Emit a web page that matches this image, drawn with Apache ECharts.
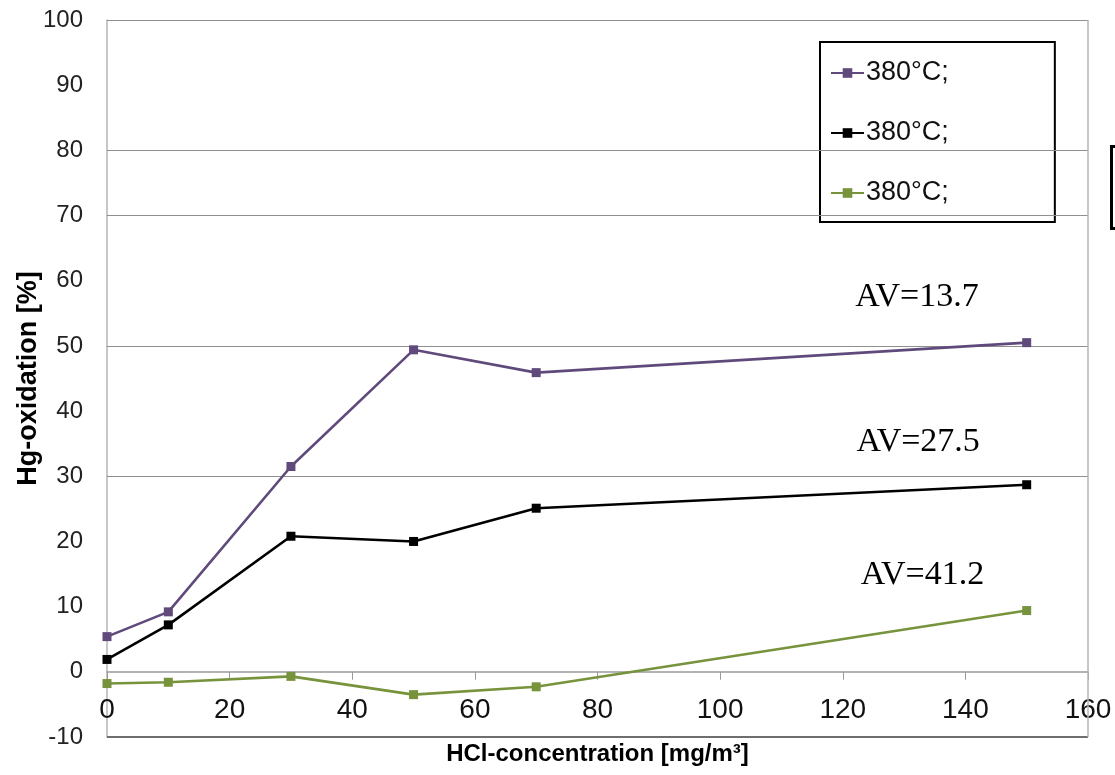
<!DOCTYPE html>
<html>
<head>
<meta charset="utf-8">
<script src="https://cdn.jsdelivr.net/npm/echarts@6/dist/echarts.min.js"></script>
<style>
  html, body { margin: 0; padding: 0; background: #fff; }
  #chart { width: 1115px; height: 775px; }
</style>
</head>
<body>
<div id="chart"></div>
<script>
// ---- data ----
const hclConc = [0, 10, 30, 50, 70, 150];
const seriesNames = ['380°C;', '380°C;\u200b', '380°C;\u200b\u200b'];
const purpleVals = [5.4, 9.2, 31.5, 49.4, 45.9, 50.5];
const blackVals  = [1.9, 7.2, 20.8, 20.0, 25.1, 28.7];
const greenVals  = [-1.8, -1.6, -0.7, -3.5, -2.3, 9.4];
const annotText = ['AV=13.7', 'AV=27.5', 'AV=41.2'];
const annotX = [132.1, 132.3, 133.0];
const annotY = [57.5, 35.3, 14.9];
const gridValues = [100, 80, 70, 50, 30];
const xTitle = 'HCl-concentration [mg/m³]';
const yTitle = 'Hg-oxidation [%]';

const colors = ['#604a7b', '#000000', '#77933c'];
const valueSets = [purpleVals, blackVals, greenVals];

const chart = echarts.init(document.getElementById('chart'), null, { renderer: 'canvas' });

const lineSeries = seriesNames.map((name, i) => ({
  name: name,
  type: 'line',
  data: hclConc.map((x, j) => [x, valueSets[i][j]]),
  symbol: 'rect',
  symbolSize: 9,
  z: 5,
  lineStyle: { color: colors[i], width: 2.6 },
  itemStyle: { color: colors[i] },
  emphasis: { disabled: true },
  animation: false
}));

const option = {
  animation: false,
  backgroundColor: '#ffffff',
  grid: { left: 107, right: 27, top: 20, bottom: 38, containLabel: false, outerBoundsMode: 'none' },
  xAxis: {
    type: 'value',
    min: 0, max: 160, interval: 20,
    name: xTitle,
    nameLocation: 'middle',
    nameGap: 5,
    nameMoveOverlap: false,
    nameTextStyle: { fontFamily: 'Liberation Sans', fontWeight: 'bold', fontSize: 24, color: '#000' },
    axisLine: { onZero: true, lineStyle: { color: '#9a9a9a', width: 1.5 } },
    axisTick: { show: true, length: 8, lineStyle: { color: '#9a9a9a', width: 1 } },
    axisLabel: { fontFamily: 'Liberation Sans', fontSize: 28, color: '#111', margin: -41 },
    splitLine: { show: false }
  },
  yAxis: {
    type: 'value',
    min: -10, max: 100, interval: 10,
    name: yTitle,
    nameLocation: 'middle',
    nameGap: 65,
    nameMoveOverlap: false,
    nameTextStyle: { fontFamily: 'Liberation Sans', fontWeight: 'bold', fontSize: 27, color: '#000' },
    axisLine: { show: true, lineStyle: { color: '#b5b5b5', width: 1.5 } },
    axisTick: { show: false },
    axisLabel: { fontFamily: 'Liberation Sans', fontSize: 24, color: '#222', margin: 24 },
    splitLine: { show: false }
  },
  legend: {
    show: true,
    data: seriesNames,
    orient: 'vertical',
    left: 820,
    top: 42,
    padding: [17, 106, 15, 10],
    itemGap: 32,
    itemWidth: 33,
    itemHeight: 12,
    backgroundColor: '#ffffff',
    borderColor: '#000000',
    borderWidth: 2,
    formatter: n => n.replace(/\u200b/g, ''),
    textStyle: { fontFamily: 'Liberation Sans', fontSize: 27, color: '#111', lineHeight: 28, padding: [0, 0, 0, -3] },
    selectedMode: false
  },
  graphic: [
    {
      type: 'rect',
      left: 1110, top: 145,
      shape: { width: 30, height: 82 },
      style: { fill: '#ffffff', stroke: '#000000', lineWidth: 3 },
      z: 10
    }
  ],
  series: [
    {
      name: 'grid',
      type: 'line',
      data: [],
      silent: true,
      z: 1,
      markLine: {
        silent: true,
        symbol: ['none', 'none'],
        label: { show: false },
        animation: false,
        lineStyle: { color: '#8f8f8f', width: 1.2, type: 'solid' },
        data: gridValues.map(v => ({ yAxis: v }))
          .concat([
            { yAxis: -10, lineStyle: { color: '#6e6e6e', width: 2 } },
            { xAxis: 160, lineStyle: { color: '#b5b5b5', width: 1.5 } }
          ])
      }
    },
    ...lineSeries,
    {
      name: 'annotations',
      type: 'scatter',
      data: annotX.map((x, i) => ({ value: [x, annotY[i]], label: { formatter: annotText[i] } })),
      symbolSize: 1,
      itemStyle: { color: 'rgba(0,0,0,0)', opacity: 1 },
      silent: true,
      z: 6,
      label: {
        show: true,
        position: 'inside',
        fontFamily: 'Liberation Serif',
        fontSize: 34,
        color: '#000',
        opacity: 1
      }
    }
  ]
};

chart.setOption(option);
</script>
</body>
</html>
